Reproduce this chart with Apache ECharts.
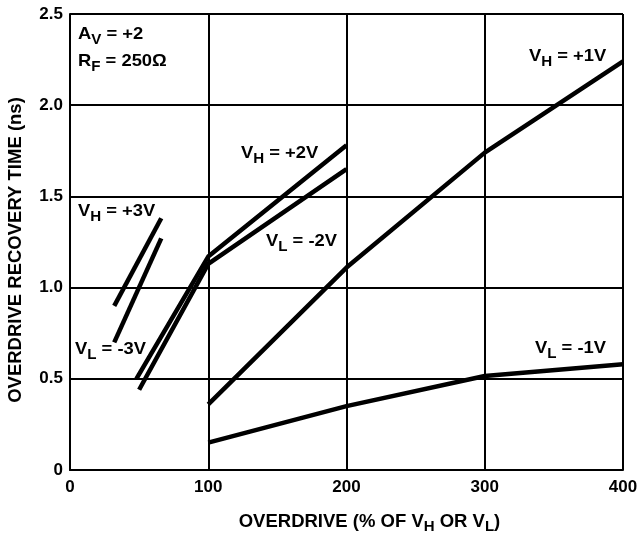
<!DOCTYPE html>
<html>
<head>
<meta charset="utf-8">
<script src="https://cdn.jsdelivr.net/npm/echarts@6/dist/echarts.min.js"></script>
<style>
  html, body { margin: 0; padding: 0; background: #fff; }
  #chart { width: 637px; height: 540px; }
</style>
</head>
<body>
<div id="chart"></div>
<script>
// x: overdrive (% of VH or VL), y: recovery time (ns)
var xTicks = [0, 100, 200, 300, 400];
var yTicks = [0, 0.5, 1.0, 1.5, 2.0, 2.5];

var vh1 = [[100, 0.36], [200, 1.11], [300, 1.74], [400, 2.24]];
var vl1 = [[100, 0.15], [200, 0.35], [300, 0.515], [400, 0.58]];
var vh2 = [[48, 0.50], [100, 1.17], [200, 1.78]];
var vl2 = [[50, 0.44], [100, 1.13], [200, 1.65]];
var vh3 = [[32, 0.90], [66, 1.38]];
var vl3 = [[32, 0.70], [66, 1.27]];

var FONT = '"Liberation Sans", Arial, Helvetica, sans-serif';
var rich = {
  m: { fontFamily: FONT, fontWeight: 'bold', fontSize: 17, color: '#000', verticalAlign: 'top' },
  s: { fontFamily: FONT, fontWeight: 'bold', fontSize: 14, color: '#000', verticalAlign: 'top', padding: [7, 0, 0, 0] }
};

// annotation text, slightly widened like the original typeface
function lbl(x, y, txt) {
  return {
    type: 'text', x: x, y: y, scaleX: 1.08,
    style: { text: txt, rich: rich }
  };
}

function line(name, data) {
  return {
    name: name, type: 'line', data: data, symbol: 'none', silent: true,
    lineStyle: { color: '#000', width: 4.5 }
  };
}

var chart = echarts.init(document.getElementById('chart'));
chart.setOption({
  backgroundColor: '#fff',
  animation: false,
  grid: { left: 70, right: 14, top: 14, bottom: 70, containLabel: false, outerBoundsMode: 'none' },
  xAxis: {
    type: 'value', min: xTicks[0], max: xTicks[xTicks.length - 1], interval: 100,
    name: '{m|OVERDRIVE (% OF V}{s|H}{m| OR V}{s|L}{m|)}',
    nameLocation: 'middle', nameGap: 42,
    nameTextStyle: {
      padding: [0, 0, 0, 46],
      rich: {
        m: { fontFamily: FONT, fontWeight: 'bold', fontSize: 18.5, color: '#000', verticalAlign: 'top' },
        s: { fontFamily: FONT, fontWeight: 'bold', fontSize: 15, color: '#000', verticalAlign: 'top', padding: [7, 0, 0, 0] }
      }
    },
    axisLine: { lineStyle: { color: '#000', width: 2 } },
    axisTick: { show: false },
    splitLine: { lineStyle: { color: '#000', width: 2 } },
    axisLabel: { color: '#000', fontFamily: FONT, fontWeight: 'bold', fontSize: 17, margin: 9 }
  },
  yAxis: {
    type: 'value', min: yTicks[0], max: yTicks[yTicks.length - 1], interval: 0.5,
    name: 'OVERDRIVE RECOVERY TIME (ns)',
    nameLocation: 'middle', nameGap: 45,
    nameTextStyle: { color: '#000', fontFamily: FONT, fontWeight: 'bold', fontSize: 18.5, padding: [0, 16, 0, 0] },
    axisLine: { lineStyle: { color: '#000', width: 2 } },
    axisTick: { show: false },
    splitLine: { lineStyle: { color: '#000', width: 2 } },
    axisLabel: {
      color: '#000', fontFamily: FONT, fontWeight: 'bold', fontSize: 17, margin: 7,
      formatter: function (v) { return v === 0 ? '0' : v.toFixed(1); }
    }
  },
  series: [
    line('VH=+1V', vh1), line('VL=-1V', vl1),
    line('VH=+2V', vh2), line('VL=-2V', vl2),
    line('VH=+3V', vh3), line('VL=-3V', vl3)
  ],
  graphic: [
    lbl(78, 26, '{m|A}{s|V}{m| = +2}'),
    lbl(78, 53, '{m|R}{s|F}{m| = 250Ω}'),
    lbl(241, 145, '{m|V}{s|H}{m| = +2V}'),
    lbl(266, 233, '{m|V}{s|L}{m| = -2V}'),
    lbl(78, 203, '{m|V}{s|H}{m| = +3V}'),
    lbl(75, 341, '{m|V}{s|L}{m| = -3V}'),
    lbl(529, 48, '{m|V}{s|H}{m| = +1V}'),
    lbl(535, 340, '{m|V}{s|L}{m| = -1V}')
  ]
});
</script>
</body>
</html>
